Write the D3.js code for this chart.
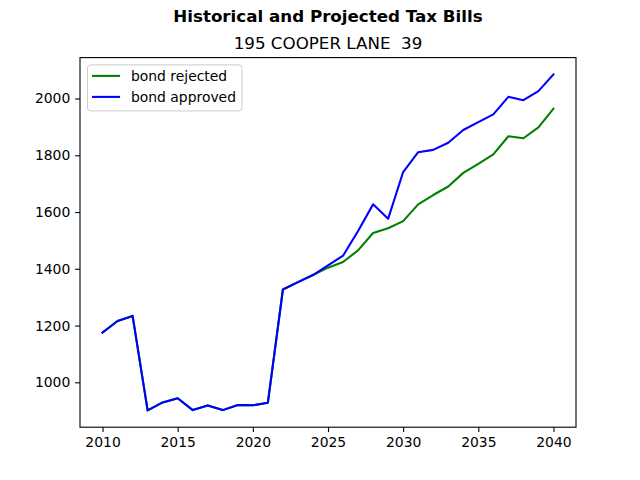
<!DOCTYPE html>
<html lang="en">
<head>
    <meta charset="UTF-8">
    <title>Historical and Projected Tax Bills</title>
    <script src="https://d3js.org/d3.v7.min.js"></script>
    <style>
        body { margin: 0; background: #fff; }
        text { font-family: "DejaVu Sans", sans-serif; }
    </style>
</head>
<body>

<div id="my_dataviz"></div>

<script>
    var years = d3.range(2010, 2041);
    var rejected = [1175, 1216, 1234, 901, 929, 944, 902, 918, 902, 920, 919, 928,
        1327, 1353, 1378, 1404, 1424, 1465, 1526, 1543, 1568, 1627, 1660, 1690,
        1738, 1770, 1803, 1867, 1860, 1898, 1964];
    var approved = [1175, 1216, 1234, 901, 929, 944, 902, 918, 902, 920, 919, 928,
        1327, 1353, 1378, 1412, 1446, 1533, 1627, 1576, 1741, 1811, 1819, 1844,
        1889, 1917, 1944, 2006, 1994, 2026, 2085];
    var xTicks = [2010, 2015, 2020, 2025, 2030, 2035, 2040];
    var yTicks = [1000, 1200, 1400, 1600, 1800, 2000];

    var series = [
        {name: "bond rejected", values: rejected, color: "green"},
        {name: "bond approved", values: approved, color: "blue"}
    ];

    // matplotlib-like figure layout
    var W = 640, H = 480;
    var margin = {top: 57.6, right: 64, bottom: 52.8, left: 80},
        width = W - margin.left - margin.right,
        height = H - margin.top - margin.bottom;

    var root = d3.select("#my_dataviz").append("svg")
        .attr("width", W)
        .attr("height", H);

    root.append("text")
        .attr("x", margin.left + width / 2)
        .attr("y", 22)
        .attr("text-anchor", "middle")
        .attr("font-size", "16.7px")
        .attr("font-weight", "bold")
        .text("Historical and Projected Tax Bills");

    var svg = root.append("g")
        .attr("transform", "translate(" + margin.left + "," + margin.top + ")");

    svg.append("text")
        .attr("x", width / 2)
        .attr("y", -8.3)
        .attr("text-anchor", "middle")
        .attr("font-size", "16.7px")
        .attr("xml:space", "preserve")
        .style("white-space", "pre")
        .text("195 COOPER LANE  39");

    // 5% padding like matplotlib autoscale
    var xmin = d3.min(years), xmax = d3.max(years);
    var xpad = (xmax - xmin) * 0.05;
    var x = d3.scaleLinear()
        .domain([xmin - xpad, xmax + xpad])
        .range([0, width]);

    var allVals = rejected.concat(approved);
    var ymin = d3.min(allVals), ymax = d3.max(allVals);
    var ypad = (ymax - ymin) * 0.05;
    var y = d3.scaleLinear()
        .domain([ymin - ypad, ymax + ypad])
        .range([height, 0]);

    var tickLen = 4.86;

    var gx = svg.append("g")
        .attr("transform", "translate(0," + height + ")")
        .call(d3.axisBottom(x).tickValues(xTicks).tickFormat(d3.format("d"))
            .tickSize(tickLen).tickPadding(4.86));
    var gy = svg.append("g")
        .call(d3.axisLeft(y).tickValues(yTicks).tickFormat(d3.format("d"))
            .tickSize(tickLen).tickPadding(4.86));

    [gx, gy].forEach(function(g) {
        g.select(".domain").remove();
        g.selectAll(".tick line").attr("stroke", "#000").attr("stroke-width", 1.1);
        g.selectAll(".tick text")
            .attr("font-size", "13.9px")
            .attr("font-family", "DejaVu Sans, sans-serif")
            .attr("fill", "#000");
    });

    var line = d3.line()
        .x(function(d, i) { return x(years[i]); })
        .y(function(d) { return y(d); });

    series.forEach(function(s) {
        svg.append("path")
            .datum(s.values)
            .attr("fill", "none")
            .attr("stroke", s.color)
            .attr("stroke-width", 2.08)
            .attr("stroke-linejoin", "round")
            .attr("stroke-linecap", "square")
            .attr("d", line);
    });

    // frame
    svg.append("rect")
        .attr("width", width)
        .attr("height", height)
        .attr("fill", "none")
        .attr("stroke", "#000")
        .attr("stroke-width", 1.1);

    // legend
    var lg = svg.append("g").attr("transform", "translate(7.5,7.3)");
    lg.append("rect")
        .attr("width", 154.5)
        .attr("height", 46)
        .attr("rx", 3)
        .attr("fill", "#fff")
        .attr("fill-opacity", 0.8)
        .attr("stroke", "#cccccc")
        .attr("stroke-width", 1);
    series.forEach(function(s, i) {
        var yy = 11 + i * 21;
        lg.append("line")
            .attr("x1", 4.5).attr("x2", 32.5)
            .attr("y1", yy).attr("y2", yy)
            .attr("stroke", s.color)
            .attr("stroke-width", 2.08);
        lg.append("text")
            .attr("x", 43.5)
            .attr("y", yy + 4.8)
            .attr("font-size", "13.9px")
            .text(s.name);
    });
</script>

</body>
</html>
